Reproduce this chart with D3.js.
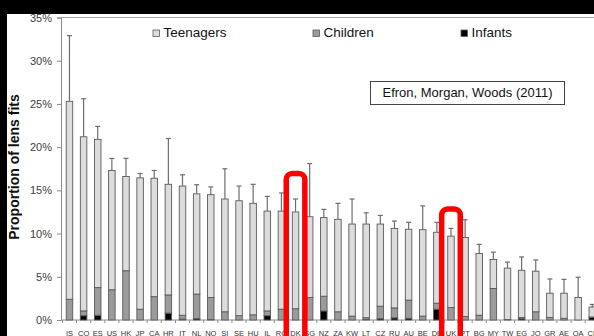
<!DOCTYPE html>
<html>
<head>
<meta charset="utf-8">
<script src="https://cdn.jsdelivr.net/npm/d3@7/dist/d3.min.js"></script>
<style>
  html, body { margin: 0; padding: 0; background: #000; }
  svg { display: block; }
  text { font-family: "Liberation Sans", Arial, sans-serif; }
</style>
</head>
<body>
<svg id="chart" width="594" height="336"></svg>
<script>
// Country codes, in the order plotted
const countries = ["IS","CO","ES","US","HK","JP","CA","HR","IT","NL","NO","SI","SE","HU","IL","RO","DK","SG","NZ","ZA",
                   "KW","LT","CZ","RU","AU","BE","DE","UK","PT","BG","MY","TW","EG","JO","GR","AE","QA","CL"];
// Share of lens fits (%) by age group
const infants   = [0,0.5,0.55,0,0,0,0,0.8,0.1,0.15,0.05,0,0,0,0.5,0,0,0,1.05,0,
                   0,0.05,0.15,0.25,0.2,0,1.25,0,0,0,0,0,0.15,0,0,0,0,0.3];
const children  = [2.4,0.55,3.2,3.5,5.7,1.25,2.7,2.1,0.45,2.85,2.55,0.95,0.5,0.6,0.55,1.25,1.3,2.6,1.7,0.95,
                   0.45,0.22,1.45,1.15,2.1,0.45,0.7,1.45,0.4,0.55,3.65,0.05,0.15,0.95,0.3,0.2,0,0.05];
const teenagers = [22.9,20.15,17.15,13.8,10.9,15.2,13.7,12.8,14.95,11.6,11.9,13.05,13.3,12.9,11.55,11.35,11.2,9.35,9.1,10.7,
                   10.65,10.83,9.5,9.2,8.2,10.0,8.2,8.25,9.15,7.15,3.35,5.95,5.45,4.7,2.8,2.9,2.6,1.15];
// Upper error on the total (%)
const errUp     = [7.6,4.4,1.5,1.4,2.1,0.5,0.9,5.3,1.3,1.05,0.9,3.5,1.7,2.2,1.7,2.1,1.5,6.15,0.95,1.85,
                   2.9,1.3,1.0,0.85,0.8,2.75,1.15,0.9,2.05,1.05,0.85,0.7,1.55,1.3,1.65,1.6,2.35,0.3];
const yTicks = [0,5,10,15,20,25,30,35];
const seriesNames = ["Infants","Children","Teenagers"];
const legendOrder = ["Teenagers","Children","Infants"];
// Highlighted countries and the level (%) the marker box reaches up to
const highlights = [{country:"DK", top:16.95}, {country:"UK", top:12.85}];

const rows = countries.map((c,i) => ({country:c, Infants:infants[i], Children:children[i], Teenagers:teenagers[i], err:errUp[i]}));

const svg = d3.select("#chart");
const W = 594, H = 336;

// white page with dark frame on top and left
svg.append("rect").attr("x",0).attr("y",0).attr("width",W).attr("height",H).attr("fill","#000");
svg.append("rect").attr("x",7).attr("y",14).attr("width",W-7).attr("height",H-14).attr("fill","#fff");

const step = 14.13;
const x0 = 62.4;
const x = d3.scaleBand().domain(countries).range([x0, x0 + step*countries.length])
  .paddingInner(0.54).paddingOuter(0.27);
const y = d3.scaleLinear().domain([0,35]).range([320,17.5]);
const axisX = 61;

const fills = {Teenagers:"#dcdcdc", Children:"#9b9b9b", Infants:"#000"};
const stroke = "#5a5a5a";

// plot frame top line
svg.append("line").attr("x1",axisX).attr("x2",W).attr("y1",y(35)).attr("y2",y(35))
  .attr("stroke","#a6a6a6").attr("stroke-width",1);

// y axis
const yAxis = d3.axisLeft(y).tickValues(yTicks).tickFormat(d => d + "%").tickSize(4).tickPadding(5);
const gy = svg.append("g").attr("transform",`translate(${axisX},0)`).call(yAxis);
gy.select(".domain").attr("stroke","#8c8c8c");
gy.selectAll(".tick line").attr("stroke","#8c8c8c");
gy.selectAll(".tick text").attr("fill","#404040").style("font-size","11px").style("font-family","Liberation Sans, Arial, sans-serif");

// y axis title
svg.append("text").attr("transform",`translate(18.5,167) rotate(-90)`)
  .attr("text-anchor","middle").attr("font-weight","bold").attr("font-size",14).attr("fill","#111")
  .text("Proportion of lens fits");

// x axis baseline with category ticks
svg.append("line").attr("x1",axisX).attr("x2",W).attr("y1",y(0)).attr("y2",y(0)).attr("stroke","#8c8c8c");
const xAxis = d3.axisBottom(x).tickSize(0).tickPadding(0);
const gx = svg.append("g").attr("transform",`translate(0,${y(0)})`).call(xAxis);
gx.select(".domain").remove();
gx.selectAll(".tick text").attr("fill","#333").style("font-size","7.5px")
  .style("font-family","Liberation Sans, Arial, sans-serif").attr("dy",null).attr("y",15.5);
svg.append("g").selectAll("line").data(countries).join("line")
  .attr("x1", d => x(d) - x.step()*x.paddingInner()/2)
  .attr("x2", d => x(d) - x.step()*x.paddingInner()/2)
  .attr("y1", y(0)).attr("y2", y(0)+3).attr("stroke","#8c8c8c");

// stacked bars
const stack = d3.stack().keys(seriesNames);
const layers = stack(rows);
svg.append("g").selectAll("g").data(layers).join("g")
  .attr("fill", d => fills[d.key])
  .selectAll("rect").data(d => d.filter(s => s[1] - s[0] > 0)).join("rect")
  .attr("x", d => x(d.data.country))
  .attr("width", x.bandwidth())
  .attr("y", d => y(d[1]))
  .attr("height", d => y(d[0]) - y(d[1]))
  .attr("stroke", stroke).attr("stroke-width",0.9);

// error bars (upper whisker)
const eb = svg.append("g").attr("stroke","#6e6e6e").attr("stroke-width",1.2);
rows.forEach(r => {
  const total = r.Infants + r.Children + r.Teenagers;
  const cx = x(r.country) + x.bandwidth()/2;
  eb.append("line").attr("x1",cx).attr("x2",cx).attr("y1",y(total)).attr("y2",y(total + r.err));
  eb.append("line").attr("x1",cx-2.5).attr("x2",cx+2.5).attr("y1",y(total + r.err)).attr("y2",y(total + r.err));
});

// legend
const legendX = {Teenagers:153, Children:313, Infants:461};
const lg = svg.append("g");
legendOrder.forEach(k => {
  lg.append("rect").attr("x",legendX[k]).attr("y",30).attr("width",6.5).attr("height",6.5)
    .attr("fill",fills[k]).attr("stroke",stroke).attr("stroke-width",0.8);
  lg.append("text").attr("x",legendX[k]+10.5).attr("y",33.5).attr("dominant-baseline","middle")
    .attr("font-size",13.5).attr("fill","#111").text(k);
});

// source box
svg.append("rect").attr("x",370.5).attr("y",81.5).attr("width",194).attr("height",23)
  .attr("fill","#fff").attr("stroke","#444").attr("stroke-width",1);
svg.append("text").attr("x",467.5).attr("y",93.5).attr("text-anchor","middle").attr("dominant-baseline","middle")
  .attr("font-size",13).attr("fill","#111").text("Efron, Morgan, Woods (2011)");

// red marker boxes around highlighted countries
const hw = 9.3;
svg.append("g").selectAll("rect").data(highlights).join("rect")
  .attr("x", d => x(d.country) + x.bandwidth()/2 - hw)
  .attr("y", d => y(d.top))
  .attr("width", 2*hw)
  .attr("height", d => H + 20 - y(d.top))
  .attr("rx",6).attr("ry",6)
  .attr("fill","none").attr("stroke","#ff0000").attr("stroke-width",5.5);
</script>
</body>
</html>
